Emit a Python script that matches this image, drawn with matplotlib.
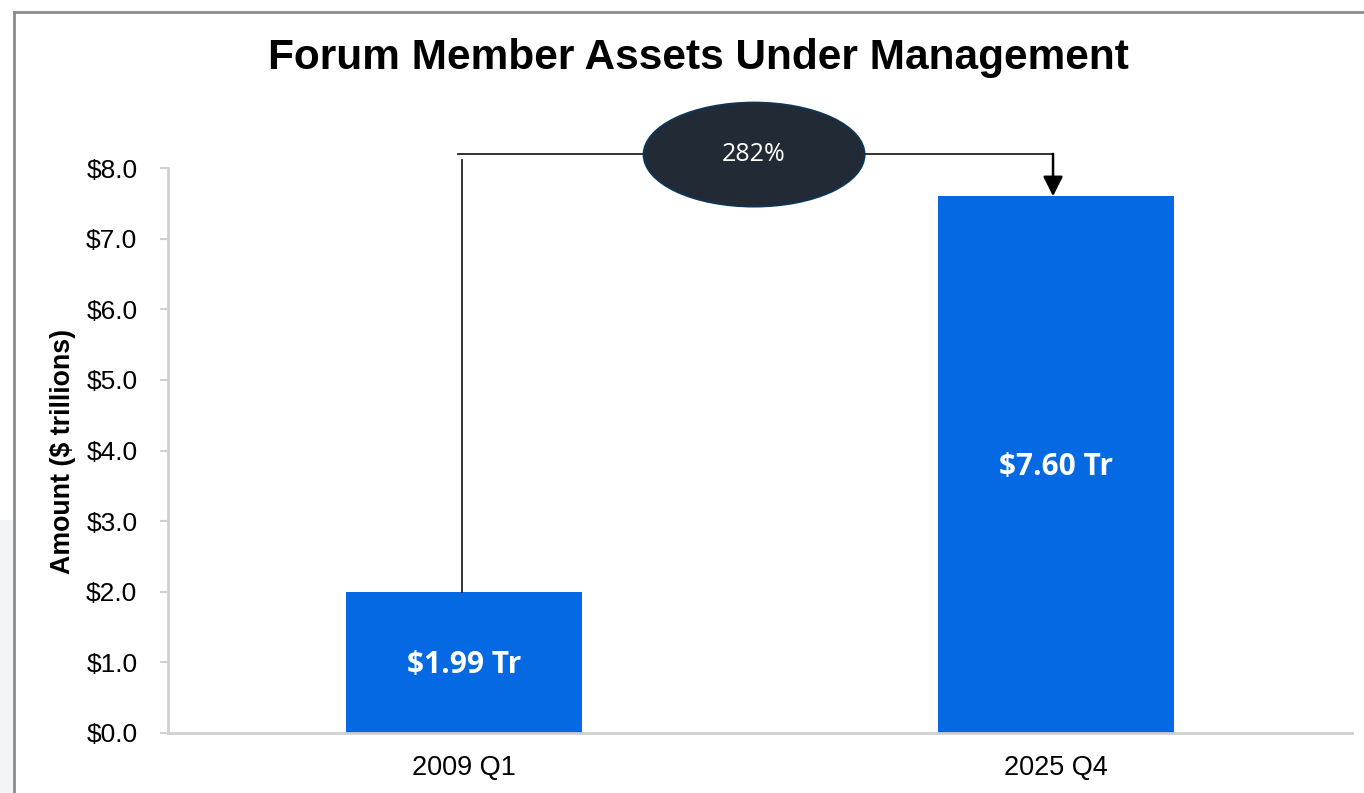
import matplotlib
matplotlib.use("Agg")
import matplotlib.pyplot as plt
from matplotlib.patches import Ellipse, Rectangle
from matplotlib.lines import Line2D

categories = ["2009 Q1", "2025 Q4"]
values = [1.99, 7.60]
bar_labels = ["$1.99 Tr", "$7.60 Tr"]
growth_label = "282%"
yticks = [0, 1, 2, 3, 4, 5, 6, 7, 8]
ytick_labels = ["$0.0", "$1.0", "$2.0", "$3.0", "$4.0", "$5.0", "$6.0", "$7.0", "$8.0"]
title = "Forum Member Assets Under Management"
ylabel = "Amount ($ trillions)"

W, H = 1364, 793
fig = plt.figure(figsize=(W / 100, H / 100), dpi=100)
fig.patch.set_facecolor("white")

# light gray area at far left and outer frame
fig.patches.append(Rectangle((0, 0), 14 / W, 1 - 520 / H, transform=fig.transFigure,
                             facecolor="#f3f4f6", edgecolor="none", zorder=0))
fig.add_artist(Line2D([14 / W, 14 / W], [0, 1 - 12 / H], transform=fig.transFigure,
                      color="#8c8c8c", lw=2))
fig.add_artist(Line2D([14 / W, 1], [1 - 12 / H, 1 - 12 / H], transform=fig.transFigure,
                      color="#8c8c8c", lw=2))

ax = fig.add_axes([168 / W, 1 - 733 / H, (1352 - 168) / W, (733 - 168) / H])
x = list(range(len(categories)))
ax.bar(x, values, width=0.4, color="#0469E2", zorder=2)
ax.set_xlim(-0.5, 1.5)
ax.set_ylim(0, 8)
ax.set_yticks(yticks)
ax.set_yticklabels(ytick_labels, fontsize=19, family="Liberation Sans")
ax.set_xticks(x)
ax.set_xticklabels(categories, fontsize=19.5, family="Liberation Sans")
ax.tick_params(axis="y", length=6, width=1.5, color="#d0d0d0", pad=16)
ax.tick_params(axis="x", length=0, pad=16)
for s in ["top", "right"]:
    ax.spines[s].set_visible(False)
for s in ["left", "bottom"]:
    ax.spines[s].set_color("#d0d0d0")
    ax.spines[s].set_linewidth(2)

for xi, v, lab in zip(x, values, bar_labels):
    ax.text(xi, v / 2 - 0.03, lab, ha="center", va="center", color="white",
            fontsize=21.5, fontweight="bold", family="Open Sans", zorder=3)

# connector with growth ellipse
y_conn = 8.2
ax.plot([-0.003, -0.003], [values[0], 8.12], color="#222222", lw=1.3, clip_on=False, zorder=3)
ax.plot([-0.01, 0.995], [y_conn, y_conn], color="#222222", lw=1.3, clip_on=False, zorder=3)
ax.annotate("", xy=(0.995, values[1]), xytext=(0.995, y_conn),
            arrowprops=dict(arrowstyle="-|>", color="black", lw=1.8, mutation_scale=30,
                            shrinkA=0, shrinkB=0), annotation_clip=False, zorder=4)
ell = Ellipse((0.49, 8.19), 0.373, 1.47, facecolor="#222a35", edgecolor="#0f3552",
              lw=1.5, clip_on=False, zorder=5)
ax.add_patch(ell)
ax.text(0.49, 8.19, growth_label, ha="center", va="center", color="white",
        fontsize=18, family="Open Sans", zorder=6, clip_on=False)

fig.text(698 / W, 1 - 58 / H, title, ha="center", va="center", fontsize=30.5,
         fontweight="bold", family="Liberation Sans")
fig.text(63 / W, 1 - 451 / H, ylabel, ha="center", va="center", rotation=90,
         fontsize=19.3, fontweight="bold", family="Liberation Sans")

fig.savefig("out.png", dpi=100)
